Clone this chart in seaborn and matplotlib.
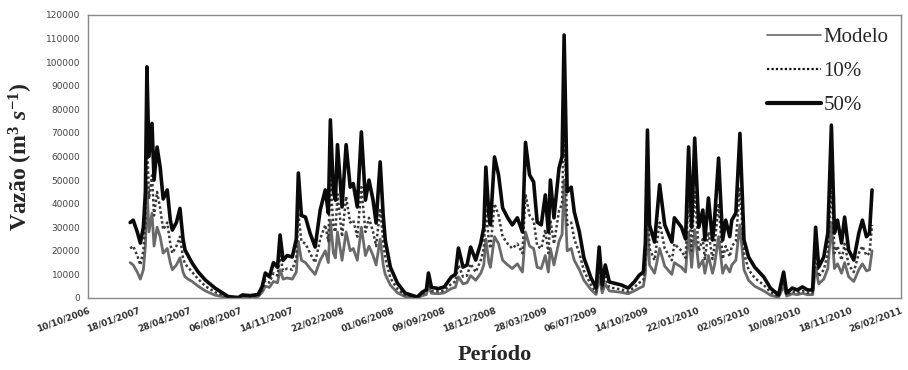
import matplotlib
matplotlib.use("Agg")
import matplotlib.pyplot as plt
import numpy as np
import pandas as pd
import seaborn as sns

# Dias contados a partir de 01/01/2007
dia = [0, 6, 14, 20, 26, 30, 33, 37, 43, 47, 53, 59, 65, 73, 79, 83, 91, 98, 104, 108,
       114, 122, 134, 148, 167, 193, 213, 221, 236, 252, 260, 266, 274, 282, 290, 295, 301, 309, 319, 327,
       331, 337, 345, 354, 364, 374, 384, 390, 394, 400, 404, 408, 417, 425, 433, 439, 447, 455, 463, 470,
       478, 484, 492, 498, 502, 512, 526, 541, 565, 575, 583, 587, 593, 607, 618, 632, 640, 646, 655, 663,
       670, 680, 690, 696, 700, 706, 709, 717, 725, 733, 743, 752, 762, 772, 778, 786, 794, 801, 809, 817,
       823, 827, 834, 844, 850, 854, 860, 868, 874, 884, 893, 907, 917, 923, 929, 935, 943, 967, 980, 992,
       1002, 1010, 1014, 1018, 1022, 1032, 1042, 1052, 1066, 1071, 1085, 1093, 1099, 1105, 1111, 1119, 1127, 1131, 1138, 1146,
       1150, 1158, 1166, 1172, 1180, 1184, 1192, 1200, 1208, 1217, 1229, 1247, 1260, 1276, 1286, 1292, 1303, 1313, 1323, 1333,
       1343, 1349, 1355, 1365, 1373, 1380, 1386, 1392, 1400, 1406, 1414, 1424, 1434, 1441, 1449, 1455, 1460]

vazao_50 = [32000, 33000, 28000, 23300, 30000, 45000, 98000, 60000, 74000, 50000, 64000, 55500, 42000, 45800, 33000, 28800, 32000, 38000, 25000, 20300,
            18000, 14800, 11000, 7600, 4200, 600, 200, 1300, 1000, 1500, 5000, 10600, 9000, 15000, 13000, 26700, 16000, 18000, 17400, 25000,
            53000, 35000, 34300, 27500, 21600, 37300, 45800, 36000, 75500, 45000, 41500, 65000, 38600, 65000, 47000, 48500, 38600, 70400, 41500, 50000,
            41500, 31800, 57700, 35000, 24600, 13100, 6300, 2100, 400, 2500, 3500, 10600, 4500, 4000, 4700, 8900, 10000, 21200, 13100, 14000,
            21600, 16100, 23300, 30000, 55500, 35000, 31000, 59800, 52200, 38200, 34000, 31000, 34000, 28000, 66000, 52200, 49200, 32200, 31000, 43700,
            28000, 50000, 34000, 55100, 60000, 111500, 45000, 47000, 36500, 28000, 17000, 8500, 4200, 21600, 5500, 14000, 6800, 5500, 4200, 6800,
            9700, 11000, 23700, 71200, 31000, 23700, 48000, 31000, 23700, 34000, 30000, 25000, 64000, 30000, 67800, 30000, 37300, 24600, 42400, 24600,
            33000, 59300, 24600, 33000, 26000, 33000, 36000, 69800, 24600, 17400, 13100, 8900, 4200, 1300, 11000, 2100, 4200, 3400, 4700, 3400,
            3400, 30000, 13100, 17400, 27500, 73300, 27500, 33000, 23300, 34300, 20300, 16100, 27500, 33000, 26000, 27500, 45800]

vazao_10 = [21000, 22000, 18000, 14000, 20000, 32000, 70000, 42000, 52000, 35000, 45000, 38000, 29000, 32000, 23000, 19000, 22000, 26000, 17000, 14500,
            13000, 11000, 8000, 5000, 2500, 300, 100, 800, 600, 1000, 3500, 7500, 6500, 10500, 9500, 18000, 11500, 12500, 12000, 17000,
            36000, 24000, 23000, 19000, 15000, 25000, 31000, 24000, 50000, 30000, 28000, 44000, 26000, 43000, 32000, 33000, 26000, 47000, 28000, 34000,
            28000, 22000, 38000, 24000, 17000, 8500, 3800, 1200, 200, 1500, 2500, 7000, 3000, 2800, 3200, 6000, 7000, 14000, 9000, 9500,
            14500, 11000, 16000, 21000, 38000, 24000, 21000, 40000, 35000, 26000, 23000, 21000, 23000, 19000, 44000, 35000, 33000, 22000, 21000, 29000,
            19000, 33000, 23000, 37000, 40000, 75000, 31000, 32000, 25000, 19000, 11500, 5500, 2500, 14000, 3500, 9000, 4500, 3600, 2800, 4500,
            6500, 7500, 16000, 48000, 21000, 16000, 32000, 21000, 16000, 23000, 20000, 17000, 43000, 20000, 45000, 20000, 25000, 16500, 28000, 16500,
            22000, 40000, 16500, 22000, 17500, 22000, 24000, 47000, 19000, 12000, 8500, 5500, 2500, 700, 7000, 1300, 2800, 2200, 3000, 2200,
            2200, 20000, 9000, 12000, 19000, 49000, 19000, 22000, 16000, 23000, 14000, 11000, 19000, 22000, 18000, 19000, 31000]

vazao_modelo = [15000, 14000, 11000, 8000, 12000, 22000, 48000, 28000, 36000, 22000, 30000, 26000, 19000, 21000, 15000, 12000, 14000, 17000, 11000, 9000,
                8000, 7000, 5000, 3000, 1200, 100, 0, 500, 300, 600, 2500, 5000, 4500, 7000, 6500, 12000, 8000, 8500, 8000, 11000,
                24000, 16000, 15000, 12500, 10000, 16000, 20000, 15000, 33000, 19000, 17000, 28000, 16000, 28000, 20000, 21000, 16000, 30000, 18000, 22000,
                18000, 14000, 25000, 14000, 10000, 5500, 2200, 600, 100, 1000, 1500, 5000, 2000, 1800, 2200, 4000, 4500, 9000, 6000, 6500,
                9500, 7500, 10500, 14000, 25000, 15000, 13000, 26000, 23000, 16000, 14000, 12500, 14500, 11000, 28000, 22000, 21000, 13000, 12500, 18000,
                11000, 21000, 14000, 24000, 27000, 50000, 20000, 21000, 16000, 12000, 7500, 3500, 1500, 9000, 2200, 6000, 3000, 2400, 1800, 3000,
                4200, 5000, 10500, 32000, 14000, 10500, 21000, 13500, 10000, 15000, 13000, 11000, 28000, 13000, 29000, 13000, 16000, 10500, 18000, 10500,
                14000, 26000, 10500, 14000, 11000, 14000, 16000, 31000, 12000, 7500, 5000, 3000, 1200, 300, 5000, 800, 1800, 1400, 2000, 1400,
                1400, 13000, 6000, 8000, 12500, 32000, 12500, 14500, 10500, 15000, 9000, 7000, 12000, 14500, 11500, 12000, 20000]

rotulos_x = ["10/10/2006", "18/01/2007", "28/04/2007", "06/08/2007", "14/11/2007", "22/02/2008",
             "01/06/2008", "09/09/2008", "18/12/2008", "28/03/2009", "06/07/2009", "14/10/2009",
             "22/01/2010", "02/05/2010", "10/08/2010", "18/11/2010", "26/02/2011"]
ticks_y = [0, 10000, 20000, 30000, 40000, 50000, 60000, 70000, 80000, 90000, 100000, 110000, 120000]

datas = pd.Timestamp("2007-01-01") + pd.to_timedelta(dia, unit="D")
df = pd.DataFrame({"data": datas, "Modelo": vazao_modelo, "10%": vazao_10, "50%": vazao_50})

sns.set_style("white")
plt.rcParams["font.family"] = ["Liberation Serif", "DejaVu Sans"]
plt.rcParams["mathtext.fontset"] = "custom"
plt.rcParams["mathtext.rm"] = "Liberation Serif:bold"
plt.rcParams["mathtext.bf"] = "Liberation Serif:bold"
plt.rcParams["mathtext.it"] = "Liberation Serif:italic:bold"

fig = plt.figure(figsize=(9.08, 3.70), dpi=100)
ax = fig.add_axes([0.0969, 0.1946, 0.8954, 0.7649])

sns.lineplot(data=df, x="data", y="Modelo", ax=ax, color="#6a6a6a", linewidth=2.0, label="Modelo")
sns.lineplot(data=df, x="data", y="10%", ax=ax, color="#3a3a3a", linewidth=1.8,
             linestyle=(0, (1, 1)), label="10%")
sns.lineplot(data=df, x="data", y="50%", ax=ax, color="#0a0a0a", linewidth=2.6, label="50%")

tick_datas = pd.to_datetime(rotulos_x, format="%d/%m/%Y")
ax.set_xlim(tick_datas[0], tick_datas[-1])
ax.set_ylim(0, 120000)
ax.set_xticks(tick_datas)
ax.set_xticklabels(rotulos_x, rotation=20, ha="right", rotation_mode="anchor",
                   fontsize=6.5, family="DejaVu Sans", fontweight="bold", color="#333333")
ax.set_yticks(ticks_y)
ax.set_yticklabels([str(v) for v in ticks_y], fontsize=6.5, family="DejaVu Sans", color="#444444")
ax.tick_params(axis="both", direction="inout", length=5, width=0.8, color="#888888", pad=3)

for s in ax.spines.values():
    s.set_color("#888888")
    s.set_linewidth(1.0)

ax.set_xlabel("Período", fontsize=16, fontweight="bold", labelpad=8)
ax.set_ylabel("Vazão (m$^{3}$ $s^{-1}$)", fontsize=17, fontweight="bold", labelpad=8)

leg = ax.legend(loc="upper right", frameon=False, fontsize=15, handlelength=2.6,
                labelspacing=0.7, handletextpad=0.1, borderaxespad=0.2)
leg_lines = leg.get_lines()
leg_lines[0].set_linewidth(1.2)
leg_lines[1].set_linewidth(1.6)
leg_lines[1].set_color("#111111")
leg_lines[2].set_linewidth(3.0)

fig.savefig("out.png", dpi=100)
